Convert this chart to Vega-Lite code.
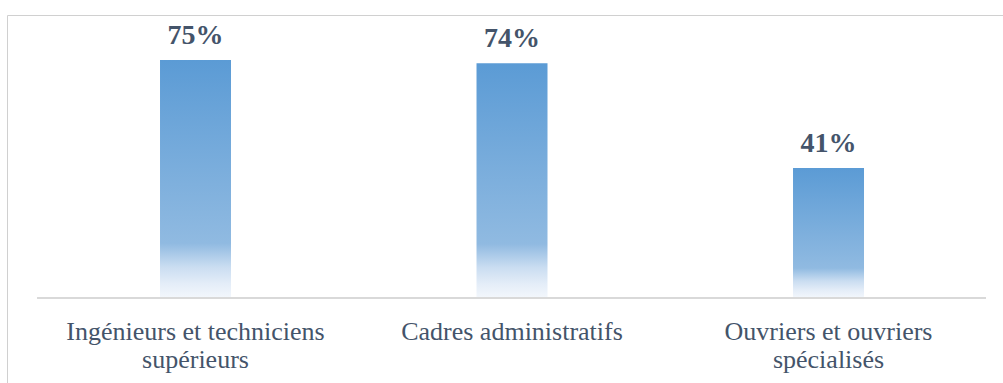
{
  "$schema": "https://vega.github.io/schema/vega-lite/v6.json",
  "width": 996,
  "height": 368,
  "padding": {"left": 7, "top": 15, "right": 0, "bottom": 0},
  "autosize": {"type": "none"},
  "background": "white",
  "config": {"view": {"stroke": "#D0D0D0", "strokeWidth": 1}},
  "data": {"values": [
    {"cat": "Ingénieurs et techniciens|supérieurs", "pct": 75, "label": "75%"},
    {"cat": "Cadres administratifs", "pct": 74, "label": "74%"},
    {"cat": "Ouvriers et ouvriers|spécialisés", "pct": 41, "label": "41%"}
  ]},
  "encoding": {
    "x": {
      "field": "cat", "type": "nominal", "sort": null,
      "scale": {"paddingInner": 0.7757, "paddingOuter": 0.4613, "align": 0.524},
      "axis": {
        "orient": "bottom", "offset": -85, "domain": false, "ticks": false,
        "labelPadding": 20, "labelAngle": 0, "title": null, "labelLimit": 0,
        "labelFont": "Liberation Serif", "labelFontSize": 26, "labelColor": "#44546A",
        "labelLineHeight": 28, "labelBaseline": "top",
        "labelExpr": "split(datum.label, '|')"
      }
    }
  },
  "layer": [
    {
      "mark": {
        "type": "bar",
        "color": {
          "gradient": "linear", "x1": 0, "y1": 0, "x2": 0, "y2": 1,
          "stops": [
            {"offset": 0, "color": "#5B9BD5"},
            {"offset": 0.77, "color": "#90BAE1"},
            {"offset": 0.87, "color": "#CADDF1"},
            {"offset": 0.94, "color": "#E4EDF8"},
            {"offset": 1, "color": "#F3F7FC"}
          ]
        }
      },
      "encoding": {
        "y": {"field": "pct", "type": "quantitative",
              "scale": {"domain": [-26.79, 89.19], "nice": false, "zero": false},
              "axis": null},
        "y2": {"datum": 0}
      }
    },
    {
      "mark": {"type": "rule", "color": "#D9D9D9", "strokeWidth": 1.5},
      "encoding": {
        "x": {"datum": "Ingénieurs et techniciens|supérieurs", "bandPosition": -1.732},
        "x2": {"datum": "Ouvriers et ouvriers|spécialisés", "bandPosition": 2.718},
        "y": {"datum": 0}
      }
    },
    {
      "mark": {"type": "text", "font": "Liberation Serif", "fontSize": 28, "fontWeight": "bold",
               "color": "#44546A", "baseline": "alphabetic", "dy": -16},
      "encoding": {
        "y": {"field": "pct", "type": "quantitative"},
        "text": {"field": "label"}
      }
    }
  ]
}
